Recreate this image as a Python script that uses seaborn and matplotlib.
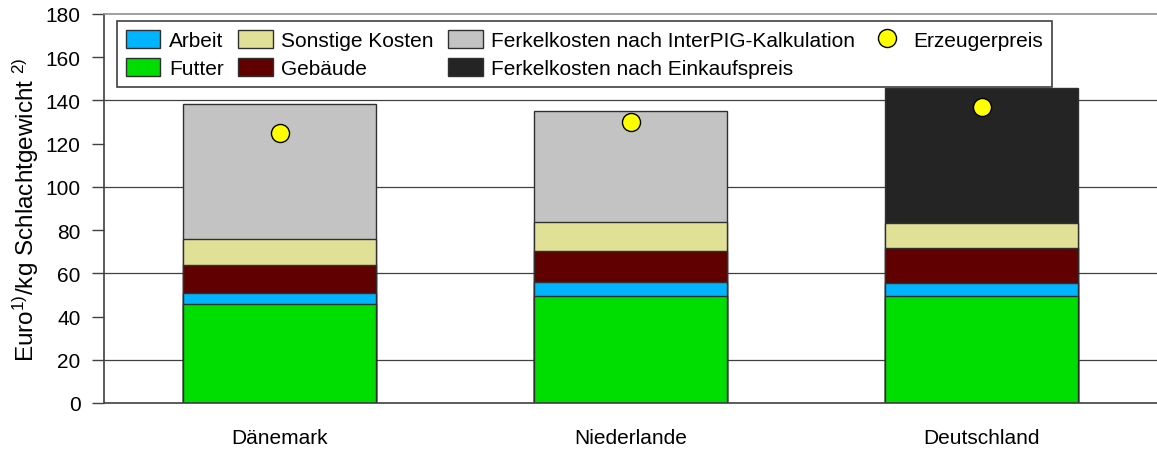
import numpy as np
import matplotlib
matplotlib.use("Agg")
import matplotlib.pyplot as plt
import seaborn as sns
from matplotlib.patches import Patch
from matplotlib.lines import Line2D

# data (Euro / kg Schlachtgewicht)
laender = ["Dänemark", "Niederlande", "Deutschland"]
futter = [45.8, 49.7, 49.7]
arbeit = [5.1, 6.1, 5.7]
gebaeude = [13.1, 14.5, 16.2]
sonstige = [11.9, 13.3, 11.7]
ferkel = [62.5, 51.7, 62.5]
erzeugerpreis = [125.0, 130.0, 137.0]
y_ticks = [0, 20, 40, 60, 80, 100, 120, 140, 160, 180]
grid_levels = [20, 60, 100, 140]

c_futter = "#00DD00"
c_arbeit = "#00B4FF"
c_gebaeude = "#600000"
c_sonstige = "#E0E096"
c_interpig = "#C3C3C3"
c_einkauf = "#242424"
c_preis = "#FFFF00"
ferkel_farben = [c_interpig, c_interpig, c_einkauf]

sns.set_style("white")
plt.rcParams["font.family"] = ["Liberation Sans", "DejaVu Sans"]
plt.rcParams["mathtext.fontset"] = "custom"
plt.rcParams["mathtext.rm"] = "Liberation Sans"
plt.rcParams["mathtext.it"] = "Liberation Sans"
plt.rcParams["text.color"] = "black"
plt.rcParams["axes.labelcolor"] = "black"

fig = plt.figure(figsize=(11.57, 4.52), dpi=100)
ax = fig.add_axes([104 / 1157, 48 / 452, 1053 / 1157, 389 / 452])

# stacked bars: cumulative heights, tallest drawn first
layers = [futter, arbeit, gebaeude, sonstige, ferkel]
cum = np.cumsum(np.array(layers), axis=0)
edge = dict(edgecolor="#303030", linewidth=1, width=0.552)

sns.barplot(x=laender, y=cum[4], hue=laender, palette=ferkel_farben,
            saturation=1, legend=False, ax=ax, **edge)
sns.barplot(x=laender, y=cum[3], color=c_sonstige, saturation=1, ax=ax, **edge)
sns.barplot(x=laender, y=cum[2], color=c_gebaeude, saturation=1, ax=ax, **edge)
sns.barplot(x=laender, y=cum[1], color=c_arbeit, saturation=1, ax=ax, **edge)
sns.barplot(x=laender, y=cum[0], color=c_futter, saturation=1, ax=ax, **edge)
for p in ax.patches:
    p.set_zorder(2)

# Erzeugerpreis
sns.pointplot(x=laender, y=erzeugerpreis, linestyle="none", marker="o",
              color=c_preis, markersize=13, markeredgecolor="black",
              markeredgewidth=1, errorbar=None, ax=ax, zorder=5)

ax.hlines(grid_levels, -0.5, 2.5, color="#404040", linewidth=0.9, zorder=1)

ax.set_xlim(-0.5, 2.5)
ax.set_ylim(0, 180)
ax.set_yticks(y_ticks)
ax.set_xlabel("")
ax.set_ylabel("Euro$^{1)}$/kg Schlachtgewicht $^{2)}$", fontsize=17.5, labelpad=3)
ax.tick_params(axis="y", labelsize=15, length=9, width=1, color="#404040",
               labelcolor="black", left=True, pad=8)
ax.tick_params(axis="x", labelsize=15, length=0, pad=18, labelcolor="black")

for s in ["left", "bottom"]:
    ax.spines[s].set_color("#404040")
    ax.spines[s].set_linewidth(1.2)
ax.spines["top"].set_color("#909090")
ax.spines["top"].set_linewidth(1.2)
ax.spines["right"].set_visible(False)

handles = [
    Patch(facecolor=c_arbeit, edgecolor="#303030", label="Arbeit"),
    Patch(facecolor=c_futter, edgecolor="#303030", label="Futter"),
    Patch(facecolor=c_sonstige, edgecolor="#303030", label="Sonstige Kosten"),
    Patch(facecolor=c_gebaeude, edgecolor="#303030", label="Gebäude"),
    Patch(facecolor=c_interpig, edgecolor="#303030",
          label="Ferkelkosten nach InterPIG-Kalkulation"),
    Patch(facecolor=c_einkauf, edgecolor="#303030",
          label="Ferkelkosten nach Einkaufspreis"),
    Line2D([], [], linestyle="none", marker="o", markersize=13,
           markerfacecolor=c_preis, markeredgecolor="black", label="Erzeugerpreis"),
    Patch(visible=False, label=""),
]
leg = ax.legend(handles=handles, ncol=4, loc="upper left",
                bbox_to_anchor=(0.0123, 0.982), fontsize=15, frameon=True,
                fancybox=False, edgecolor="#404040", framealpha=1,
                handlelength=1.67, handleheight=0.95, handletextpad=0.4,
                columnspacing=0.7, labelspacing=0.38, borderpad=0.42,
                borderaxespad=0)
leg.get_frame().set_linewidth(1.2)
leg.set_zorder(10)

fig.savefig("out.png", dpi=100)
